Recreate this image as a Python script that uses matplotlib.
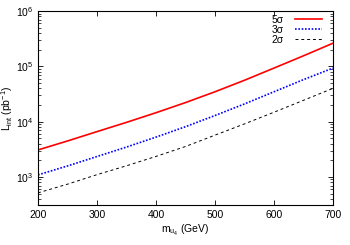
import numpy as np
import matplotlib
matplotlib.use("Agg")
import matplotlib.pyplot as plt
from matplotlib.ticker import LogLocator, NullFormatter, MultipleLocator

plt.rcParams["font.family"] = ["Liberation Sans", "DejaVu Sans"]
plt.rcParams["mathtext.default"] = "regular"

# mass of u4 (GeV)
mass = [200, 250, 300, 350, 400, 450, 500, 550, 600, 650, 700]

# integrated luminosity needed (pb^-1)
lumi_5sigma = [3080, 4470, 6600, 9700, 14500, 22100, 34700, 56000, 93000, 155000, 262000]
lumi_3sigma = [1090, 1580, 2340, 3470, 5250, 8100, 12900, 20900, 34700, 57500, 93000]
lumi_2sigma = [515, 740, 1100, 1590, 2350, 3550, 5700, 9100, 14800, 24300, 40000]

labels = ["5σ", "3σ", "2σ"]


def plot():
    fig = plt.figure(figsize=(3.5, 2.45), dpi=100)
    ax = fig.add_axes([0.1086, 0.163, 0.8428, 0.792])

    ax.plot(mass, lumi_5sigma, color="#ff0000", lw=1.2, ls="-", label=labels[0])
    ax.plot(mass, lumi_3sigma, color="#0000ff", lw=1.2, ls=(0, (1, 1)), label=labels[1])
    ax.plot(mass, lumi_2sigma, color="black", lw=0.7, ls=(0, (3, 3)), label=labels[2])

    ax.set_yscale("log")
    ax.set_xlim(200, 700)
    ax.set_ylim(310, 1e6)
    ax.xaxis.set_major_locator(MultipleLocator(100))
    ax.yaxis.set_major_locator(LogLocator(base=10, numticks=10))
    ax.yaxis.set_minor_locator(LogLocator(base=10, subs=np.arange(2, 10), numticks=10))
    ax.yaxis.set_minor_formatter(NullFormatter())

    ax.tick_params(which="both", direction="in", top=True, right=True, labelsize=7.5)
    ax.tick_params(which="major", length=3.5, width=0.6)
    ax.tick_params(which="minor", length=2, width=0.5)
    for s in ax.spines.values():
        s.set_linewidth(0.8)

    ax.set_xlabel(r"m$_{u_4}$ (GeV)", fontsize=7.5, labelpad=2)
    ax.set_ylabel(r"L$_{int}$ (pb$^{-1}$)", fontsize=7.5)
    ax.yaxis.set_label_coords(-0.078, 0.5)

    ax.legend(loc="upper right", bbox_to_anchor=(0.963, 0.981), frameon=False,
              fontsize=7.5, markerfirst=False, handlelength=2.6,
              handletextpad=1.1, labelspacing=0.0, borderaxespad=0.0,
              borderpad=0.0)

    fig.savefig("out.png", dpi=100)


if __name__ == "__main__":
    plot()
